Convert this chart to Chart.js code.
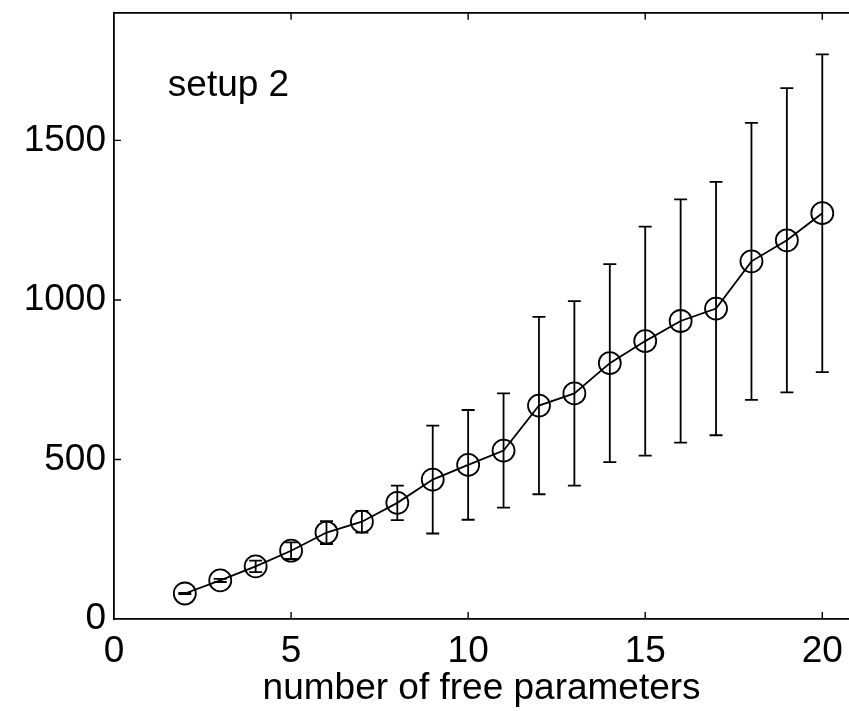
<!DOCTYPE html>
<html>
<head>
<meta charset="utf-8">
<script src="https://cdn.jsdelivr.net/npm/chart.js@4/dist/chart.umd.min.js"></script>
<style>
  html, body { margin: 0; padding: 0; background: #ffffff; overflow: hidden; }
  #wrap { width: 849px; height: 711px; overflow: hidden; position: relative; }
  #c { position: absolute; left: 0; top: 0; }
</style>
</head>
<body>
<div id="wrap"><canvas id="c" width="862" height="711"></canvas></div>
<script>
// ---- data ----
const freeParams = [2, 3, 4, 5, 6, 7, 8, 9, 10, 11, 12, 13, 14, 15, 16, 17, 18, 19, 20];
const meanValues = [80, 121, 165, 214, 271, 305, 364, 437, 483, 528, 669, 707, 802, 871, 934, 973, 1121, 1187, 1272];
const errValues  = [2, 5, 18, 26, 36, 34, 54, 169, 172, 179, 278, 289, 310, 359, 381, 397, 434, 477, 498];
const xTickValues = [0, 5, 10, 15, 20];
const yTickValues = [0, 500, 1000, 1500];
const xAxisTitle = 'number of free parameters';
const annotationText = 'setup 2';
const annotationAt = { x: 1.52, y: 1640 };

const FONT = '"Liberation Sans", Arial, Helvetica, sans-serif';
const FS = 37;

const extras = {
  id: 'extras',
  afterDatasetsDraw(chart) {
    const ctx = chart.ctx;
    const xs = chart.scales.x, ys = chart.scales.y;
    const a = chart.chartArea;
    ctx.save();
    ctx.strokeStyle = '#000';
    ctx.lineCap = 'butt';
    // error bars
    ctx.lineWidth = 1.8;
    const cap = 6.5;
    freeParams.forEach((xv, i) => {
      const px = xs.getPixelForValue(xv);
      const top = ys.getPixelForValue(meanValues[i] + errValues[i]);
      const bot = ys.getPixelForValue(meanValues[i] - errValues[i]);
      ctx.beginPath();
      ctx.moveTo(px, top); ctx.lineTo(px, bot);
      ctx.moveTo(px - cap, top); ctx.lineTo(px + cap, top);
      ctx.moveTo(px - cap, bot); ctx.lineTo(px + cap, bot);
      ctx.stroke();
    });
    // top frame line
    ctx.lineWidth = 1.8;
    ctx.beginPath();
    ctx.moveTo(a.left - 0.9, a.top); ctx.lineTo(chart.width, a.top);
    ctx.stroke();
    // inner tick marks
    const tl = 7;
    ctx.lineWidth = 1.4;
    ctx.beginPath();
    xTickValues.forEach(v => {
      if (v === 0) return;
      const px = xs.getPixelForValue(v);
      ctx.moveTo(px, a.bottom); ctx.lineTo(px, a.bottom - tl);
      ctx.moveTo(px, a.top); ctx.lineTo(px, a.top + tl);
    });
    yTickValues.forEach(v => {
      if (v === 0) return;
      const py = ys.getPixelForValue(v);
      ctx.moveTo(a.left, py); ctx.lineTo(a.left + tl, py);
    });
    ctx.stroke();
    // annotation text
    ctx.fillStyle = '#000';
    ctx.font = FS + 'px ' + FONT;
    ctx.textAlign = 'left';
    ctx.textBaseline = 'alphabetic';
    ctx.fillText(annotationText, xs.getPixelForValue(annotationAt.x), ys.getPixelForValue(annotationAt.y));
    ctx.restore();
  }
};

new Chart(document.getElementById('c'), {
  type: 'line',
  data: {
    datasets: [{
      data: freeParams.map((x, i) => ({ x: x, y: meanValues[i] })),
      borderColor: '#000',
      borderWidth: 1.8,
      pointRadius: 11,
      pointBorderWidth: 1.8,
      pointBorderColor: '#000',
      pointBackgroundColor: 'rgba(0,0,0,0)',
      tension: 0,
      fill: false
    }]
  },
  options: {
    responsive: false,
    animation: false,
    devicePixelRatio: 1,
    layout: { padding: { top: 7.5, right: 0, left: 0, bottom: 0 } },
    plugins: { legend: { display: false }, tooltip: { enabled: false } },
    scales: {
      x: {
        type: 'linear',
        min: 0,
        max: 20.76,
        afterBuildTicks: s => { s.ticks = xTickValues.map(v => ({ value: v })); },
        afterFit: s => { s.height = 92; s.paddingLeft = 0; s.paddingRight = 0; },
        grid: { display: false, drawTicks: false },
        border: { display: true, color: '#000', width: 1.8 },
        ticks: { color: '#000', font: { family: FONT, size: FS }, padding: 11, maxRotation: 0, autoSkip: false,
                 callback: v => String(v) },
        title: { display: true, text: xAxisTitle, color: '#000', font: { family: FONT, size: FS }, padding: { top: 0, bottom: 0 } }
      },
      y: {
        type: 'linear',
        min: 0,
        max: 1900,
        afterBuildTicks: s => { s.ticks = yTickValues.map(v => ({ value: v })); },
        afterFit: s => { s.width = 114; s.paddingTop = 0; s.paddingBottom = 0; },
        grid: { display: false, drawTicks: false },
        border: { display: true, color: '#000', width: 1.8 },
        ticks: { color: '#000', font: { family: FONT, size: FS }, padding: 8, callback: v => String(v) }
      }
    }
  },
  plugins: [extras]
});
</script>
</body>
</html>
